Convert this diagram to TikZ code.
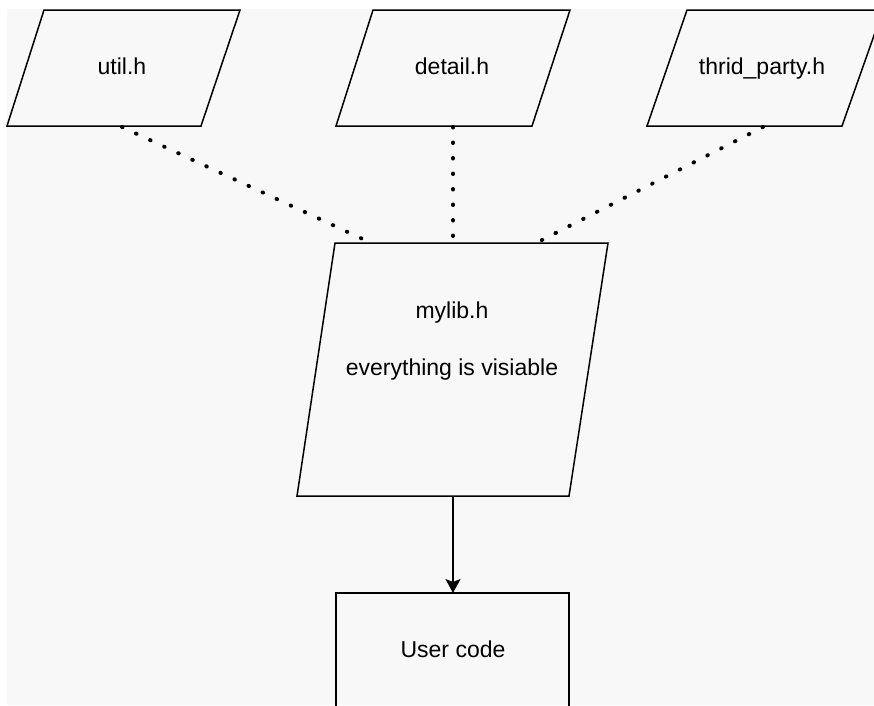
\documentclass[tikz,border=0pt]{standalone}
\usepackage{fontspec}
\setmainfont{Liberation Sans}
\usetikzlibrary{arrows.meta}
\definecolor{paper}{HTML}{F8F8F8}
\tikzset{
  shapeline/.style={draw=black, line width=1.5pt, line join=miter},
  label/.style={font=\fontsize{23}{28}\selectfont, inner sep=0pt, text=black,
    text height=17pt, text depth=5pt},
  dotlink/.style={line width=4pt, dash pattern=on 0.5pt off 15pt, line cap=round},
  flow/.style={line width=1.5pt, -{Stealth[length=14pt,width=15pt,inset=3pt]}}
}
\begin{document}
\begin{tikzpicture}[x=1pt, y=-1pt]
  \useasboundingbox (0,0) rectangle (874,705);
  \fill[white] (0,0) rectangle (874,705);
  \fill[paper] (7,9) rectangle (874,705);
  \clip (0,0) rectangle (874,705);

  % header files
  \draw[shapeline] (44,10) -- (240,10) -- (201,126) -- (7,126) -- cycle;
  \node[label] (util) at (122,68) {util.h};
  \draw[shapeline] (373,10) -- (570,10) -- (532,126) -- (336,126) -- cycle;
  \node[label] (detail) at (452,68) {detail.h};
  \draw[shapeline] (687,10) -- (883,10) -- (842,126) -- (647,126) -- cycle;
  \node[label] (third) at (762,68) {thrid\_party.h};

  % umbrella header
  \draw[shapeline] (335,243) -- (608,243) -- (569,496) -- (297,496) -- cycle;
  \node[label] (mylib) at (452,312) {mylib.h};
  \node[label] (visible) at (452,369) {everything is visiable};

  % consumer
  \draw[shapeline] (336,714) -- (336,593) -- (569,593) -- (569,714);
  \node[label] (user) at (453,651) {User code};

  % connection points
  \coordinate (utilB) at (122,127);
  \coordinate (detailB) at (453,127);
  \coordinate (thirdB) at (763,127);
  \coordinate (mylibL) at (367,241);
  \coordinate (mylibC) at (453,241);
  \coordinate (mylibR) at (540,241);
  \coordinate (mylibB) at (453,497);
  \coordinate (userT) at (453,593);

  \draw[dotlink] (utilB) -- (mylibL);
  \draw[dotlink] (detailB) -- (mylibC);
  \draw[dotlink] (thirdB) -- (mylibR);
  \draw[flow] (mylibB) -- (userT);
\end{tikzpicture}
\end{document}
